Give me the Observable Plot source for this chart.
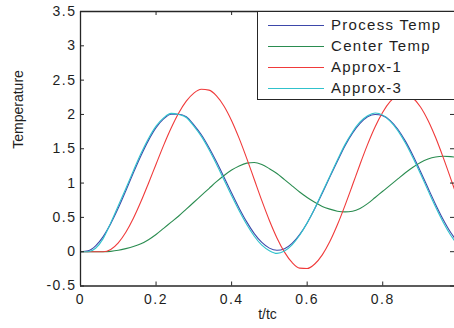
<!DOCTYPE html>
<html>
<head>
<meta charset="utf-8">
<script src="https://cdn.jsdelivr.net/npm/d3@7"></script>
<script src="https://cdn.jsdelivr.net/npm/@observablehq/plot@0.6"></script>
<style>
  html, body { margin: 0; padding: 0; background: #fff; overflow: hidden; }
  #wrap { position: relative; width: 454px; height: 328px; overflow: hidden; }
  #wrap svg [aria-label="x-axis tick label"] text,
  #wrap svg [aria-label="y-axis tick label"] text { letter-spacing: 1.5px; }
  #legend { position: absolute; left: 257px; top: 11px; width: 215px; height: 89px;
            box-sizing: border-box; border: 1.3px solid #262626; background: #fff;
            font-family: "Liberation Sans", Arial, sans-serif; font-size: 15px; color: #1e1e1e; }
  .lg-line { position: absolute; left: 10px; width: 56px; height: 1px; }
  .lg-text { position: absolute; left: 73px; line-height: 16px; letter-spacing: 1.3px; white-space: nowrap; }
</style>
</head>
<body>
<div id="wrap"></div>
<script>
// ---- data ----
const tValues = [0,0.02,0.04,0.06,0.08,0.10,0.12,0.14,0.16,0.18,0.20,0.22,0.24,0.26,0.28,0.30,0.32,0.34,0.36,0.38,0.40,0.42,0.44,0.46,0.48,0.50,0.52,0.54,0.56,0.58,0.60,0.62,0.64,0.66,0.68,0.70,0.72,0.74,0.76,0.78,0.80,0.82,0.84,0.86,0.88,0.90,0.92,0.94,0.96,0.98,0.99];

const processTemp = [0,0.012,0.085,0.22,0.409,0.636,0.888,1.149,1.399,1.622,1.807,1.935,2.002,2.003,1.967,1.849,1.703,1.518,1.309,1.084,0.855,0.634,0.434,0.264,0.135,0.052,0.02,0.043,0.12,0.249,0.419,0.625,0.852,1.087,1.318,1.542,1.728,1.87,1.966,2.0,1.983,1.911,1.784,1.611,1.402,1.17,0.927,0.689,0.469,0.279,0.201];

const centerTemp = [0,0,0,0,0.005,0.02,0.045,0.075,0.115,0.175,0.25,0.34,0.43,0.52,0.62,0.72,0.82,0.92,1.02,1.11,1.19,1.25,1.29,1.30,1.27,1.21,1.14,1.05,0.96,0.87,0.79,0.72,0.66,0.62,0.59,0.58,0.59,0.63,0.70,0.79,0.88,0.97,1.06,1.15,1.23,1.30,1.35,1.38,1.39,1.385,1.38];

const approx1 = [0,0,0,0,0.033,0.129,0.283,0.487,0.73,0.998,1.275,1.549,1.801,2.02,2.193,2.311,2.366,2.354,2.271,2.12,1.909,1.651,1.36,1.052,0.744,0.455,0.201,-0.006,-0.157,-0.24,-0.245,-0.179,-0.046,0.148,0.392,0.672,0.971,1.275,1.564,1.821,2.032,2.189,2.28,2.297,2.24,2.109,1.912,1.663,1.374,1.065,0.908];

const approx3 = [0,0,0.05,0.19,0.42,0.67,0.92,1.18,1.43,1.65,1.83,1.95,2.015,2.0,1.955,1.83,1.68,1.49,1.275,1.045,0.815,0.595,0.395,0.225,0.095,0.015,-0.025,0.01,0.10,0.24,0.42,0.63,0.865,1.10,1.335,1.56,1.745,1.89,1.98,2.02,1.99,1.90,1.765,1.585,1.37,1.135,0.89,0.65,0.43,0.24,0.16];

const seriesNames = ["Process Temp", "Center Temp", "Approx-1", "Approx-3"];
const seriesColors = ["#3d48aa", "#2a8c50", "#f03a3a", "#30c2cc"];
const xTicks = [0, 0.2, 0.4, 0.6, 0.8];
const yTicks = [-0.5, 0, 0.5, 1, 1.5, 2, 2.5, 3, 3.5];
const xLabel = "t/tc";
const yLabel = "Temperature";

// ---- build table ----
const seriesValues = [processTemp, centerTemp, approx1, approx3];
const rows = [];
seriesValues.forEach((vals, i) => {
  vals.forEach((v, j) => rows.push({series: seriesNames[i], t: tValues[j], v}));
});

const W = 454, H = 328;
const mL = 80, mR = 0, mT = 11, mB = 42.5;
const frameW = W - mL - mR, frameH = H - mT - mB;
const tickLen = 4;
const axisColor = "#262626";

const chart = Plot.plot({
  width: W, height: H,
  marginLeft: mL, marginRight: mR, marginTop: mT, marginBottom: mB,
  style: {fontFamily: "'Liberation Sans', Arial, sans-serif", fontSize: "14px", background: "#fff", color: "#1e1e1e"},
  x: {domain: [0, 0.99]},
  y: {domain: [-0.5, 3.5]},
  color: {domain: seriesNames, range: seriesColors},
  marks: [
    Plot.axisX(xTicks, {tickSize: 0, tickPadding: 8, tickFormat: d => String(d), label: null, fontSize: 14}),
    Plot.axisY(yTicks, {tickSize: 0, tickPadding: 4, tickFormat: d => String(d), label: null, fontSize: 14}),
    Plot.lineY(rows, {x: "t", y: "v", z: "series", stroke: "series", strokeWidth: 1.1, curve: "monotone-x"}),
    Plot.ruleY([-0.5, 3.5], {stroke: axisColor, strokeWidth: 1.3}),
    Plot.ruleX([0], {stroke: axisColor, strokeWidth: 1.3}),
    Plot.tickX(xTicks, {x: d => d, insetTop: frameH - tickLen, stroke: axisColor}),
    Plot.tickX(xTicks, {x: d => d, insetBottom: frameH - tickLen, stroke: axisColor}),
    Plot.tickY(yTicks, {y: d => d, insetRight: frameW - tickLen, stroke: axisColor}),
    Plot.tickY(yTicks, {y: d => d, insetLeft: frameW - tickLen, stroke: axisColor}),
    Plot.text([xLabel], {frameAnchor: "bottom", dy: 33, fontSize: 14, fill: "#1e1e1e"}),
    Plot.text([yLabel], {frameAnchor: "left", dx: -62, rotate: -90, fontSize: 14, fill: "#1e1e1e"})
  ]
});

const wrap = document.getElementById("wrap");
wrap.appendChild(chart);

// legend box inside the plot area (top right), as in the reference
const legend = document.createElement("div");
legend.id = "legend";
const rowCenters = [13, 34, 55, 76];
seriesNames.forEach((name, i) => {
  const line = document.createElement("div");
  line.className = "lg-line";
  line.style.top = rowCenters[i] + "px";
  line.style.background = seriesColors[i];
  const txt = document.createElement("div");
  txt.className = "lg-text";
  txt.style.top = (rowCenters[i] - 8) + "px";
  txt.textContent = name;
  legend.appendChild(line);
  legend.appendChild(txt);
});
wrap.appendChild(legend);
</script>
</body>
</html>
